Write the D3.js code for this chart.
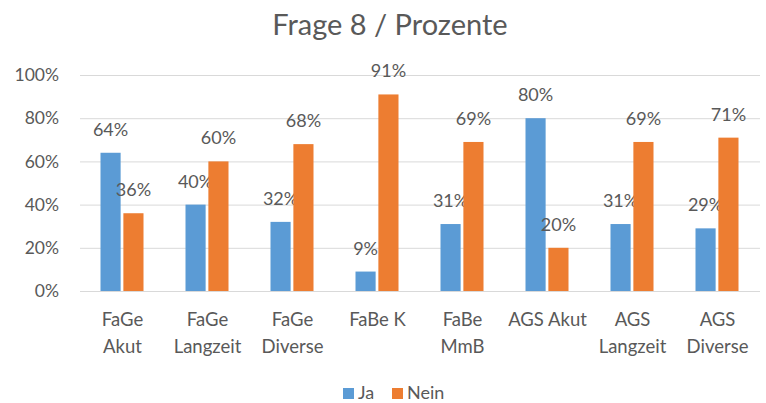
<!DOCTYPE html>
<html><head><meta charset="utf-8">
<script src="https://cdn.jsdelivr.net/npm/d3@7"></script>
<style>body{margin:0;background:#fff;} svg{display:block;}</style>
</head><body>
<svg id="c" width="766" height="403"></svg>
<script>
const categories = [["FaGe","Akut"],["FaGe","Langzeit"],["FaGe","Diverse"],["FaBe K"],["FaBe","MmB"],["AGS Akut"],["AGS","Langzeit"],["AGS","Diverse"]];
const ja = [64,40,32,9,31,80,31,29];
const nein = [36,60,68,91,69,20,69,71];
const seriesNames = ["Ja","Nein"];
const colors = ["#5B9BD5","#ED7D31"];
const yTicks = [0,20,40,60,80,100];
const title = "Frage 8 / Prozente";

const svg = d3.select("#c");
const font = "Lato, 'Open Sans', sans-serif";
const txt = "#595959";
const L=80,R=760,T=75,B=291;
const x = d3.scaleBand().domain(d3.range(categories.length)).range([L,R]);
const y = d3.scaleLinear().domain([0,100]).range([B,T]);
const x1 = d3.scaleBand().domain([0,1]).range([-22,21]).paddingInner(0.12);

svg.append("text").attr("x",390).attr("y",35).attr("text-anchor","middle")
  .attr("font-family",font).attr("font-size",29).attr("fill",txt).text(title);

const yAxis = d3.axisLeft(y).tickValues(yTicks).tickSize(-(R-L)).tickFormat(d=>d+"%");
const ga = svg.append("g").attr("transform",`translate(${L},0)`).call(yAxis);
ga.select(".domain").remove();
ga.selectAll(".tick line").attr("stroke","#d9d9d9").attr("stroke-width",1);
ga.selectAll(".tick text").attr("x",-21).attr("font-family",font).attr("font-size",17.5).attr("fill",txt);

const data = [ja,nein];
data.forEach((vals,s)=>{
  const g = svg.append("g");
  g.selectAll("rect").data(vals).join("rect")
    .attr("x",(d,i)=>x(i)+x.bandwidth()/2+x1(s))
    .attr("width",x1.bandwidth())
    .attr("y",d=>y(d)).attr("height",d=>B-y(d))
    .attr("fill",colors[s]);
  g.selectAll("text").data(vals).join("text")
    .attr("x",(d,i)=>x(i)+x.bandwidth()/2+x1(s)+x1.bandwidth()/2)
    .attr("y",d=>y(d)-17)
    .attr("text-anchor","middle").attr("font-family",font).attr("font-size",18).attr("fill",txt)
    .text(d=>d+"%");
});

const gx = svg.append("g");
categories.forEach((lines,i)=>{
  const t = gx.append("text").attr("text-anchor","middle").attr("font-family",font)
    .attr("font-size",18.5).attr("fill",txt);
  lines.forEach((ln,j)=>{
    t.append("tspan").attr("x",x(i)+x.bandwidth()/2).attr("y",326+j*27).text(ln);
  });
});

const leg = [{n:seriesNames[0],c:colors[0],x:343},{n:seriesNames[1],c:colors[1],x:392}];
leg.forEach(l=>{
  svg.append("rect").attr("x",l.x).attr("y",388).attr("width",11).attr("height",11).attr("fill",l.c);
  svg.append("text").attr("x",l.x+15).attr("y",399).attr("font-family",font).attr("font-size",18).attr("fill",txt).text(l.n);
});
</script>
</body></html>
